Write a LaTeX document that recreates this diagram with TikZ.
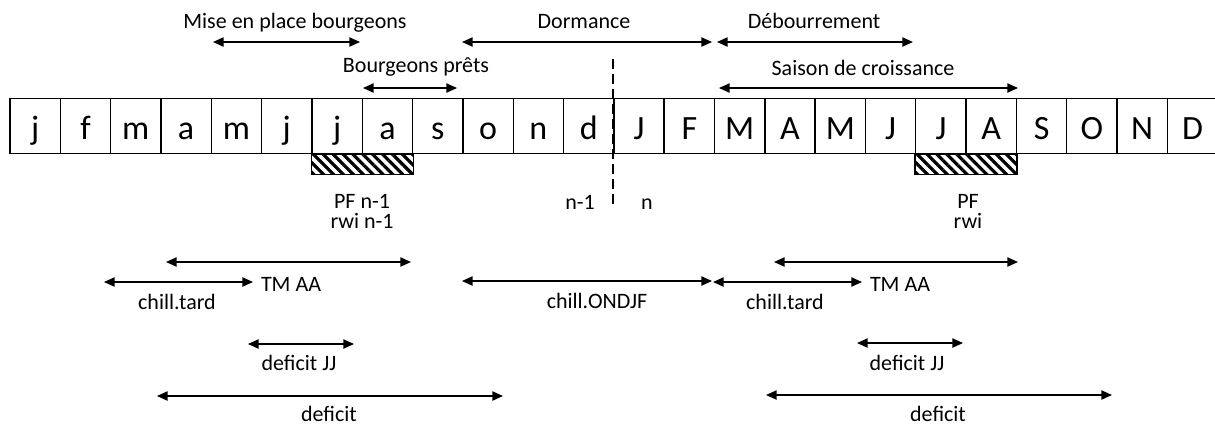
\documentclass[tikz,border=0pt]{standalone}
\usepackage{fontspec}
\setmainfont{Carlito}
\usetikzlibrary{arrows.meta,patterns.meta,calc}
\tikzset{
  >={Triangle[length=5.3pt,width=4.6pt]},
  month/.style={draw,line width=0.7pt,anchor=north west,inner sep=0pt,
    minimum width=25.16pt,minimum height=27.5pt,text height=16pt,text depth=3pt,
    font=\fontsize{17}{20}\selectfont},
  span/.style={<->,line width=0.7pt},
  tag/.style={anchor=base,inner sep=0pt,font=\fontsize{11}{13}\selectfont},
  hatch/.style={draw,line width=0.7pt,pattern={Lines[angle=-45,distance=3.5pt,line width=1.6pt]}},
  yearline/.style={line width=1.3pt,dash pattern=on 5pt off 2.5pt},
}
\begin{document}
\begin{tikzpicture}[x=0.5pt,y=-0.5pt]
  \clip (0,0) rectangle (1215,425);
  \foreach \l [count=\i] in {j,f,m,a,m,j,j,a,s,o,n,d,J,F,M,A,M,J,J,A,S,O,N,D}
    \node[month] (m\i) at ({9.3+(\i-1)*50.32},98) {\l};
  \draw[hatch] (m7.south west) rectangle ([yshift=-10pt]m8.south east);
  \draw[hatch] (m19.south west) rectangle ([yshift=-10pt]m20.south east);
  \draw[yearline] ([yshift=19.5pt]m13.north west) -- ([yshift=-25.5pt]m13.south west);
  \foreach \xa/\xb/\y/\t/\tx/\ty [count=\i] in {
      213/360/42/Mise en place bourgeons/295/28,
      363/457/88/Bourgeons prêts/416/72,
      462/712/42/Dormance/584/28,
      717/913/42/Débourrement/814/28,
      719/1018/88/Saison de croissance/863/75,
      166/411/262/TM AA/291/291,
      104/253/282/chill.tard/177/309,
      248/354/344/deficit JJ/299/370,
      157/503/396/deficit/329/421,
      462/712/281/chill.ONDJF/597/308,
      713/862/282/chill.tard/785/309,
      774/1018/262/TM AA/900/291,
      857/963/343/deficit JJ/907/370,
      766/1112/395/deficit/938/421}
    {
      \coordinate (a\i) at (\xa,\y);
      \coordinate (b\i) at (\xb,\y);
      \draw[span] (a\i) -- (b\i);
      \node[tag] (t\i) at (\tx,\ty) {\t};
    }
  \foreach \t/\tx/\ty [count=\i] in {PF n-1/362/208,rwi n-1/362/228,PF/968/208,rwi/968/228,n-1/580/209,n/647/209}
    \node[tag] (p\i) at (\tx,\ty) {\t};
\end{tikzpicture}
\end{document}
